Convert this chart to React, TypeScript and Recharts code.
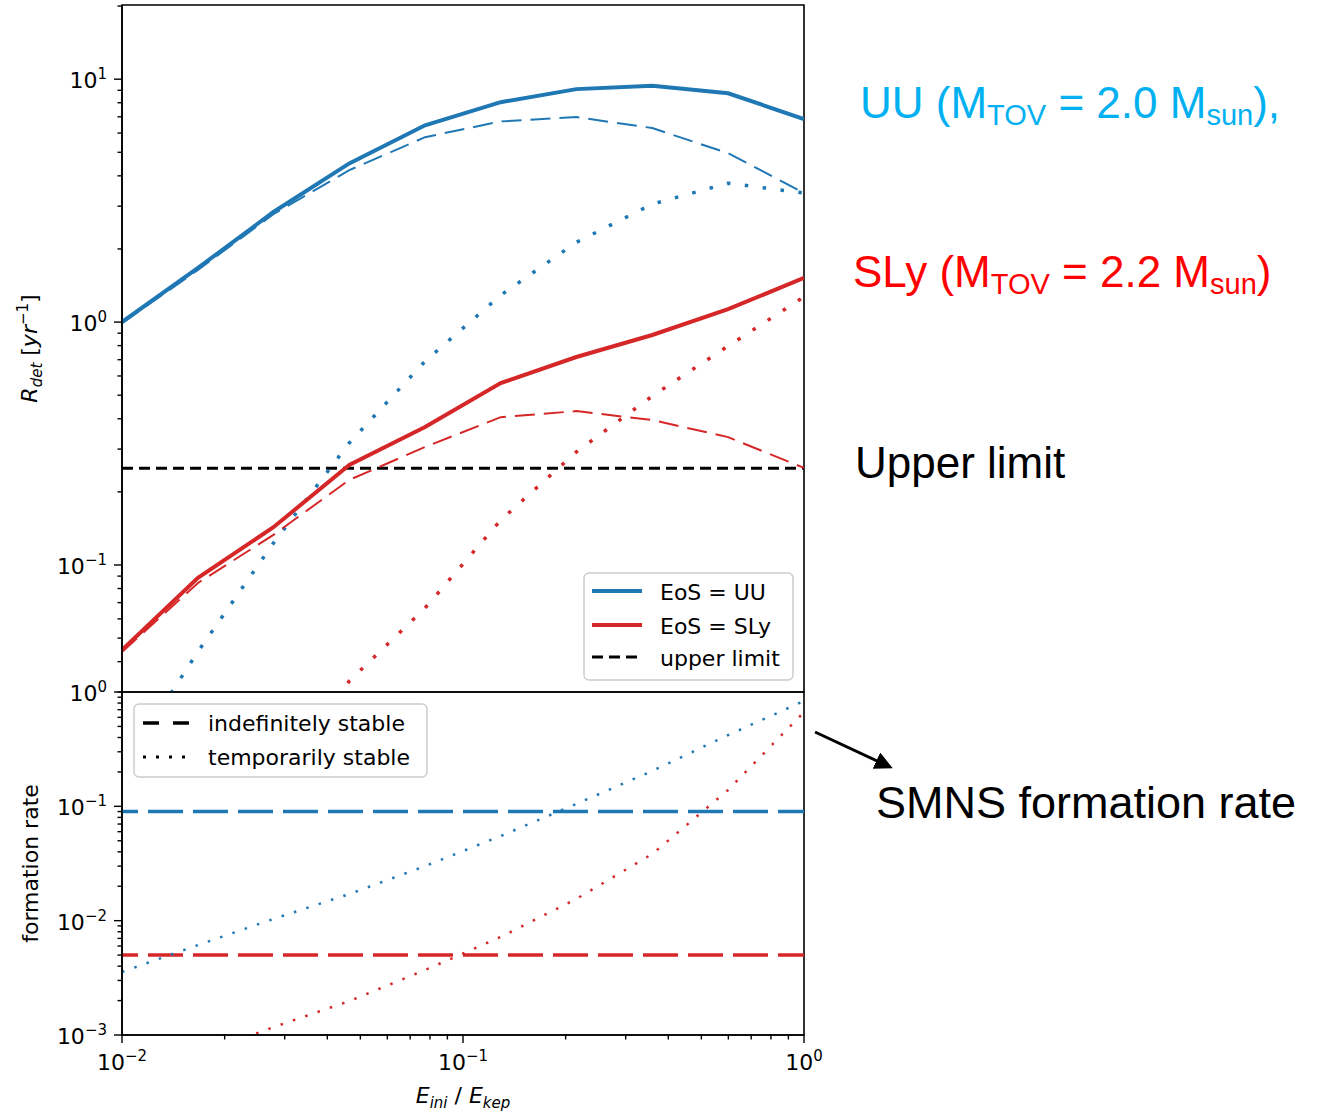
import React from 'react';
import { LineChart, Line, XAxis, YAxis, ReferenceLine, ReferenceArea, Legend } from 'recharts';

// E_ini / E_kep sample points (log spaced)
const E_RATIO = [0.01, 0.0167, 0.0278, 0.0464, 0.0774, 0.129, 0.215, 0.359, 0.599, 1.0];

// detection rate R_det [1/yr], top panel
const UU_TOTAL = [1.0, 1.67, 2.84, 4.5, 6.46, 8.04, 9.1, 9.4, 8.75, 6.85];
const UU_INDEF = [0.99, 1.64, 2.78, 4.22, 5.77, 6.7, 6.98, 6.29, 4.96, 3.4];
const UU_TEMP = [0.0145, 0.044, 0.123, 0.318, 0.69, 1.29, 2.13, 3.06, 3.73, 3.4];
const SLY_TOTAL = [0.0447, 0.0885, 0.143, 0.258, 0.37, 0.561, 0.718, 0.885, 1.13, 1.52];
const SLY_INDEF = [0.0438, 0.0843, 0.133, 0.224, 0.306, 0.406, 0.43, 0.395, 0.336, 0.251];
const SLY_TEMP = [0.0015, 0.0045, 0.011, 0.0333, 0.0665, 0.153, 0.292, 0.496, 0.797, 1.27];
const UPPER_LIMIT = 0.25;

// SMNS formation rate, bottom panel
const UU_FORM_TEMP = [0.00356, 0.00612, 0.01035, 0.0171, 0.03, 0.055, 0.105, 0.204, 0.42, 0.834];
const SLY_FORM_TEMP = [0.00038, 0.00067, 0.00117, 0.00198, 0.0037, 0.0072, 0.0155, 0.0383, 0.139, 0.668];
const UU_FORM_INDEF = 0.09;
const SLY_FORM_INDEF = 0.005;

// axis ranges and tick positions (majors get a 10^n label)
const X_DOMAIN = [0.01, 1];
const TOP_Y_DOMAIN = [0.03, 20.2];
const BOTTOM_Y_DOMAIN = [0.001, 1];
const X_TICKS = [0.01, 0.02, 0.03, 0.04, 0.05, 0.06, 0.07, 0.08, 0.09, 0.1, 0.2, 0.3, 0.4, 0.5, 0.6, 0.7, 0.8, 0.9, 1];
const TOP_Y_TICKS = [0.03, 0.04, 0.05, 0.06, 0.07, 0.08, 0.09, 0.1, 0.2, 0.3, 0.4, 0.5, 0.6, 0.7, 0.8, 0.9, 1, 2, 3, 4, 5, 6, 7, 8, 9, 10, 20];
const BOTTOM_Y_TICKS = [0.001, 0.002, 0.003, 0.004, 0.005, 0.006, 0.007, 0.008, 0.009, 0.01, 0.02, 0.03, 0.04, 0.05, 0.06, 0.07, 0.08, 0.09, 0.1, 0.2, 0.3, 0.4, 0.5, 0.6, 0.7, 0.8, 0.9, 1];

const BLUE = '#1f77b4';
const RED = '#d62728';
const FONT = '"DejaVu Sans", sans-serif';
const NOTE_FONT = '"Liberation Sans", Arial, sans-serif';

const topData = E_RATIO.map((x, i) => ({
  x,
  uuTotal: UU_TOTAL[i],
  uuIndef: UU_INDEF[i],
  uuTemp: UU_TEMP[i],
  slyTotal: SLY_TOTAL[i],
  slyIndef: SLY_INDEF[i],
  slyTemp: SLY_TEMP[i],
}));

const bottomData = E_RATIO.map((x, i) => ({
  x,
  uuTemp: UU_FORM_TEMP[i],
  slyTemp: SLY_FORM_TEMP[i],
}));

const isDecade = (v: number) => Math.abs(Math.log10(v) - Math.round(Math.log10(v))) < 1e-6;
const expText = (v: number) => {
  const e = Math.round(Math.log10(v));
  return e < 0 ? `\u2212${-e}` : `${e}`;
};

const LeftTick = (props: any) => {
  const { x, y, payload } = props;
  const major = isDecade(payload.value);
  return (
    <g>
      <line x1={x} x2={x - (major ? 8 : 4.5)} y1={y} y2={y} stroke="#000" strokeWidth={1.4} />
      {major && (
        <text x={x - 15} y={y + 9} textAnchor="end" fontSize={22} fontFamily={FONT} fill="#000">
          10<tspan dy={-9} fontSize={15}>{expText(payload.value)}</tspan>
        </text>
      )}
    </g>
  );
};

// ticks on the bottom edge of the upper panel point inwards
const InnerBottomTick = (props: any) => {
  const { x, y, payload } = props;
  const major = isDecade(payload.value);
  return <line x1={x} x2={x} y1={y} y2={y - (major ? 8 : 4.5)} stroke="#000" strokeWidth={1.4} />;
};

const BottomTick = (props: any) => {
  const { x, y, payload } = props;
  const major = isDecade(payload.value);
  return (
    <g>
      <line x1={x} x2={x} y1={y} y2={y + (major ? 8 : 4.5)} stroke="#000" strokeWidth={1.4} />
      {major && (
        <text x={x} y={y + 35} textAnchor="middle" fontSize={22} fontFamily={FONT} fill="#000">
          10<tspan dy={-9} fontSize={15}>{expText(payload.value)}</tspan>
        </text>
      )}
    </g>
  );
};

const RdetLabel = (props: any) => {
  const vb = props.viewBox || { x: 0, y: 5, width: 122, height: 687 };
  const cy = vb.y + vb.height / 2;
  return (
    <text transform="rotate(-90)" x={-cy} y={37} textAnchor="middle" fontSize={22} fontFamily={FONT} fill="#000">
      <tspan fontStyle="italic">R</tspan>
      <tspan fontStyle="italic" fontSize={15} dy={5}>det</tspan>
      <tspan dy={-5}> [</tspan>
      <tspan fontStyle="italic">yr</tspan>
      <tspan fontSize={15} dy={-9}>{'\u22121'}</tspan>
      <tspan dy={9}>]</tspan>
    </text>
  );
};

const FormationLabel = (props: any) => {
  const vb = props.viewBox || { x: 0, y: 32, width: 122, height: 343 };
  const cy = vb.y + vb.height / 2;
  return (
    <text transform="rotate(-90)" x={-cy} y={38} textAnchor="middle" fontSize={22} fontFamily={FONT} fill="#000">
      formation rate
    </text>
  );
};

const XTitle = (props: any) => {
  const vb = props.viewBox || { x: 122, y: 375, width: 682, height: 60 };
  return (
    <text x={vb.x + vb.width / 2} y={vb.y + 68} textAnchor="middle" fontSize={22} fontFamily={FONT} fill="#000">
      <tspan fontStyle="italic">E</tspan>
      <tspan fontStyle="italic" fontSize={15} dy={5}>ini</tspan>
      <tspan dy={-5}> / </tspan>
      <tspan fontStyle="italic">E</tspan>
      <tspan fontStyle="italic" fontSize={15} dy={5}>kep</tspan>
    </text>
  );
};

const EosLegend = () => (
  <svg width={212} height={110} style={{ display: 'block' }}>
    <rect x={1} y={1} width={209} height={107} rx={5} fill="#fff" fillOpacity={0.8} stroke="#cccccc" strokeWidth={1.5} />
    <line x1={9} x2={59} y1={19} y2={19} stroke={BLUE} strokeWidth={4} />
    <line x1={9} x2={59} y1={53} y2={53} stroke={RED} strokeWidth={4} />
    <line x1={9} x2={59} y1={85} y2={85} stroke="#000" strokeWidth={3} strokeDasharray="11 6" />
    <g fontSize={22} fontFamily={FONT} fill="#000">
      <text x={77} y={28}>EoS = UU</text>
      <text x={77} y={62}>EoS = SLy</text>
      <text x={77} y={94}>upper limit</text>
    </g>
  </svg>
);

const StabilityLegend = () => (
  <svg width={296} height={76} style={{ display: 'block' }}>
    <rect x={1} y={1} width={293} height={73} rx={5} fill="#fff" fillOpacity={0.8} stroke="#cccccc" strokeWidth={1.5} />
    <line x1={10} x2={57} y1={20} y2={20} stroke="#000" strokeWidth={3.5} strokeDasharray="16 14" />
    <line x1={10} x2={57} y1={54} y2={54} stroke="#000" strokeWidth={3} strokeDasharray="3 10" />
    <g fontSize={22} fontFamily={FONT} fill="#000">
      <text x={75} y={28}>indefinitely stable</text>
      <text x={75} y={62}>temporarily stable</text>
    </g>
  </svg>
);

const Notes = () => (
  <svg width={1319} height={1111} style={{ position: 'absolute', left: 0, top: 0, pointerEvents: 'none' }}>
    <defs>
      <marker id="head" markerWidth={6} markerHeight={6} refX={5} refY={3} orient="auto" markerUnits="strokeWidth">
        <path d="M0,0 L6,3 L0,6 z" fill="#000" />
      </marker>
    </defs>
    <g fontFamily={NOTE_FONT} fontSize={44}>
      <text x={860} y={118} fill="#00b0f0">
        UU (M<tspan fontSize={29} dy={7}>TOV</tspan>
        <tspan dy={-7}> = 2.0 M</tspan>
        <tspan fontSize={29} dy={7}>sun</tspan>
        <tspan dy={-7}>),</tspan>
      </text>
      <text x={853} y={287} fill="#ff0000">
        SLy (M<tspan fontSize={29} dy={7}>TOV</tspan>
        <tspan dy={-7}> = 2.2 M</tspan>
        <tspan fontSize={29} dy={7}>sun</tspan>
        <tspan dy={-7}>)</tspan>
      </text>
      <text x={855} y={478} fill="#000">Upper limit</text>
      <text x={876} y={818} fill="#000" fontSize={45}>SMNS formation rate</text>
    </g>
    <line x1={815} y1={732} x2={890} y2={767} stroke="#000" strokeWidth={3} markerEnd="url(#head)" />
  </svg>
);

const spine = { stroke: '#000', strokeWidth: 1.6 };

export default function App() {
  return (
    <div style={{ position: 'absolute', left: 0, top: 0, width: 1319, height: 1111, background: '#fff' }}>
      <div style={{ position: 'absolute', left: 0, top: 0 }}>
        <LineChart width={840} height={700} data={topData} margin={{ top: 5, right: 36, bottom: 8, left: 0 }}>
          <XAxis
            dataKey="x"
            type="number"
            scale="log"
            domain={X_DOMAIN}
            allowDataOverflow
            ticks={X_TICKS}
            interval={0}
            height={0}
            tickSize={0}
            tickMargin={0}
            tickLine={false}
            tick={<InnerBottomTick />}
            axisLine={spine}
          />
          <YAxis
            type="number"
            scale="log"
            domain={TOP_Y_DOMAIN}
            allowDataOverflow
            ticks={TOP_Y_TICKS}
            interval={0}
            width={122}
            tickSize={0}
            tickMargin={0}
            tickLine={false}
            tick={<LeftTick />}
            axisLine={spine}
            label={<RdetLabel />}
          />
          <ReferenceArea x1={X_DOMAIN[0]} x2={X_DOMAIN[1]} y1={TOP_Y_DOMAIN[0]} y2={TOP_Y_DOMAIN[1]} fill="none" fillOpacity={0} stroke="#000" strokeWidth={1.6} strokeOpacity={1} />
          <ReferenceLine y={UPPER_LIMIT} stroke="#000" strokeWidth={3} strokeDasharray="11 6" />
          <Line dataKey="uuTotal" type="linear" stroke={BLUE} strokeWidth={4} dot={false} activeDot={false} isAnimationActive={false} />
          <Line dataKey="uuIndef" type="linear" stroke={BLUE} strokeWidth={2} strokeDasharray="20 9" dot={false} activeDot={false} isAnimationActive={false} />
          <Line dataKey="uuTemp" type="linear" stroke={BLUE} strokeWidth={3.5} strokeDasharray="3.5 14.5" dot={false} activeDot={false} isAnimationActive={false} />
          <Line dataKey="slyTotal" type="linear" stroke={RED} strokeWidth={4} dot={false} activeDot={false} isAnimationActive={false} />
          <Line dataKey="slyIndef" type="linear" stroke={RED} strokeWidth={2} strokeDasharray="20 9" dot={false} activeDot={false} isAnimationActive={false} />
          <Line dataKey="slyTemp" type="linear" stroke={RED} strokeWidth={3.5} strokeDasharray="3.5 14.5" dot={false} activeDot={false} isAnimationActive={false} />
          <Legend
            verticalAlign="middle"
            align="center"
            content={() => <EosLegend />}
            wrapperStyle={{ left: 583, top: 572, width: 212, height: 110 }}
          />
        </LineChart>
      </div>
      <div style={{ position: 'absolute', left: 0, top: 660 }}>
        <LineChart width={840} height={451} data={bottomData} margin={{ top: 32, right: 36, bottom: 16, left: 0 }}>
          <XAxis
            dataKey="x"
            type="number"
            scale="log"
            domain={X_DOMAIN}
            allowDataOverflow
            ticks={X_TICKS}
            interval={0}
            height={60}
            tickSize={0}
            tickMargin={0}
            tickLine={false}
            tick={<BottomTick />}
            axisLine={spine}
            label={<XTitle />}
          />
          <YAxis
            type="number"
            scale="log"
            domain={BOTTOM_Y_DOMAIN}
            allowDataOverflow
            ticks={BOTTOM_Y_TICKS}
            interval={0}
            width={122}
            tickSize={0}
            tickMargin={0}
            tickLine={false}
            tick={<LeftTick />}
            axisLine={spine}
            label={<FormationLabel />}
          />
          <ReferenceArea x1={X_DOMAIN[0]} x2={X_DOMAIN[1]} y1={BOTTOM_Y_DOMAIN[0]} y2={BOTTOM_Y_DOMAIN[1]} fill="none" fillOpacity={0} stroke="#000" strokeWidth={1.6} strokeOpacity={1} />
          <ReferenceLine y={UU_FORM_INDEF} stroke={BLUE} strokeWidth={3.5} strokeDasharray="35 10" strokeDashoffset={19} />
          <ReferenceLine y={SLY_FORM_INDEF} stroke={RED} strokeWidth={3.5} strokeDasharray="35 10" strokeDashoffset={19} />
          <Line dataKey="uuTemp" type="linear" stroke={BLUE} strokeWidth={2.5} strokeDasharray="2.5 10.5" dot={false} activeDot={false} isAnimationActive={false} />
          <Line dataKey="slyTemp" type="linear" stroke={RED} strokeWidth={2.5} strokeDasharray="2.5 10.5" dot={false} activeDot={false} isAnimationActive={false} />
          <Legend
            verticalAlign="middle"
            align="center"
            content={() => <StabilityLegend />}
            wrapperStyle={{ left: 133, top: 43, width: 296, height: 76 }}
          />
        </LineChart>
      </div>
      <Notes />
    </div>
  );
}
